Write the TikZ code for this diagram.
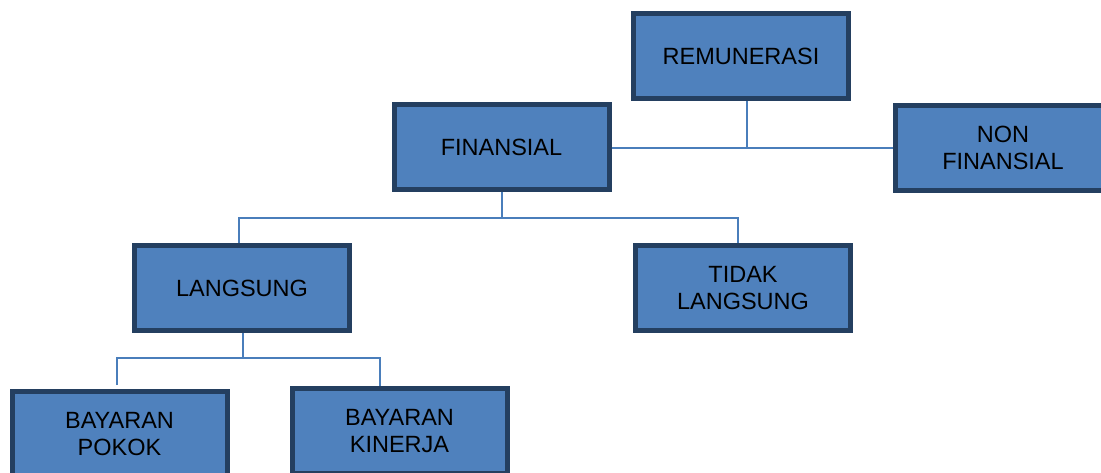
\documentclass[tikz,border=0pt]{standalone}
\usepackage{fontspec}
\setmainfont{Liberation Sans}
\definecolor{boxfill}{HTML}{4F81BD}
\definecolor{boxline}{HTML}{243F60}
\definecolor{link}{HTML}{4A7EBB}
\begin{document}
\begin{tikzpicture}[x=1pt, y=-1pt,
    kotak/.style={draw=boxline, fill=boxfill, line width=5pt, line join=miter, minimum width=215pt, minimum height=85pt,
      align=center, inner sep=2pt, font=\fontsize{23.5}{27.5}\selectfont},
    garis/.style={draw=link, line width=2pt}]
    \useasboundingbox (0,0) rectangle (1101,473);
    \clip (0,0) rectangle (1101,473);
    \node[kotak] (rem) at (741,56.5) {REMUNERASI};
    \node[kotak] (fin) at (501.5,147) {FINANSIAL};
    \node[kotak] (nonfin) at (1003,148) {NON\\FINANSIAL};
    \node[kotak] (lang) at (242,288) {LANGSUNG};
    \node[kotak] (tidak) at (743,288) {TIDAK\\LANGSUNG};
    \node[kotak] (pokok) at (119.5,434) {BAYARAN\\POKOK};
    \node[kotak] (kinerja) at (399.5,431) {BAYARAN\\KINERJA};
    \coordinate (j1) at (747,148.5);
    \coordinate (j2) at (502,218);
    \coordinate (j3) at (243,358);
    \coordinate (ujung) at (117,385);
    \draw[garis] (fin.east |- j1) -- (nonfin.west |- j1);
    \draw[garis] (rem.south -| j1) -- (j1);
    \draw[garis] (fin.south -| j2) -- (j2);
    \draw[garis] (lang.north -| 239,0) |- (j2) -| (tidak.north -| 738,0);
    \draw[garis] (lang.south -| j3) -- (j3);
    \draw[garis] (ujung) |- (j3) -| (kinerja.north -| 380,0);
\end{tikzpicture}
\end{document}
